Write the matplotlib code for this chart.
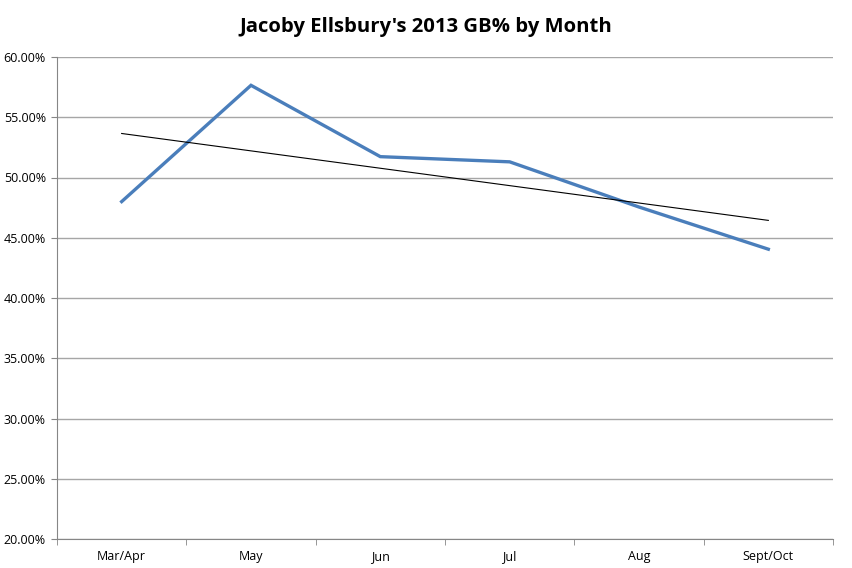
import matplotlib
matplotlib.use("Agg")
import matplotlib.pyplot as plt
import numpy as np
from matplotlib.ticker import FuncFormatter, FixedLocator

months = ["Mar/Apr", "May", "Jun", "Jul", "Aug", "Sept/Oct"]
gb_pct = [48.0, 57.65, 51.73, 51.3, 47.55, 44.05]
y_ticks = [20, 25, 30, 35, 40, 45, 50, 55, 60]

fig = plt.figure(figsize=(8.52, 5.68), dpi=100)
ax = fig.add_axes([57/852, 1-539/568, (833-57)/852, (539-57)/568])

x = np.arange(len(months))
ax.plot(x, gb_pct, color="#4A7EBB", lw=2.4, solid_joinstyle="miter", zorder=3)
coef = np.polyfit(x, gb_pct, 1)
ax.plot(x, np.polyval(coef, x), color="black", lw=0.8, zorder=4)

ax.set_xlim(-0.5, len(months) - 0.5)
ax.set_ylim(20, 60)
ax.yaxis.set_major_locator(FixedLocator(y_ticks))
ax.yaxis.set_major_formatter(FuncFormatter(lambda v, p: f"{v:.2f}%"))
ax.grid(axis="y", color="#A6A6A6", lw=1)
ax.set_axisbelow(True)

ax.set_xticks(x)
ax.set_xticklabels(months)
ax.set_xticks(np.arange(len(months) + 1) - 0.5, minor=True)
ax.tick_params(axis="x", which="major", length=0, pad=8)
ax.tick_params(axis="x", which="minor", length=4, direction="out", color="#868686")
ax.tick_params(axis="y", length=4, color="#868686", pad=4)
for lab in ax.get_xticklabels() + ax.get_yticklabels():
    lab.set_fontsize(9)
    lab.set_family(["Open Sans", "DejaVu Sans"])

for s in ["top", "right"]:
    ax.spines[s].set_visible(False)
for s in ["left", "bottom"]:
    ax.spines[s].set_color("#868686")

fig.text(0.5, 1-27/568, "Jacoby Ellsbury's 2013 GB% by Month", ha="center", va="center",
         fontsize=14.6, fontweight="bold", family=["Open Sans", "DejaVu Sans"])

fig.savefig("out.png", dpi=100)
